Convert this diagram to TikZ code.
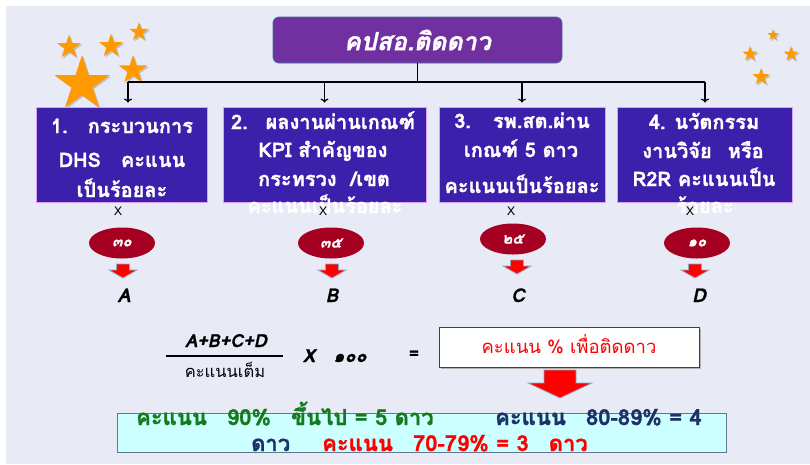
\documentclass[tikz,border=0pt]{standalone}
\usepackage{fontspec}
\setmainfont{Loma}[Script=Thai, BoldFeatures={FakeBold=1.2}, BoldItalicFeatures={FakeBold=1.2}]
\usetikzlibrary{shapes.geometric,arrows.meta}
\definecolor{bg}{HTML}{E8EBF6}
\definecolor{titlefill}{HTML}{7030A0}
\definecolor{titleedge}{HTML}{41719C}
\definecolor{boxfill}{HTML}{3A20AA}
\definecolor{boxedge}{HTML}{D8A0F0}
\definecolor{ovalfill}{HTML}{A50021}
\definecolor{starc}{HTML}{FF9900}
\definecolor{arredge}{HTML}{8EA9C8}
\definecolor{cyanfill}{HTML}{CCFFFF}
\definecolor{cyanedge}{HTML}{5F7891}
\definecolor{dgreen}{HTML}{157A1E}
\definecolor{navy}{HTML}{1F3068}
\tikzset{
  titlebox/.style={draw=titleedge, line width=0.8pt, fill=titlefill, rounded corners=6pt, text=white, font=\bfseries\itshape\fontsize{25}{29}\selectfont},
  bigbox/.style={draw=boxedge, line width=0.8pt, fill=boxfill},
  boxtxt/.style={anchor=base, inner sep=0pt, text=white, font=\bfseries\fontsize{20}{24}\selectfont},
  xmark/.style={anchor=base, inner sep=0pt, font=\fontsize{12}{14}\selectfont},
  oval/.style={ellipse, fill=ovalfill, inner sep=0pt, minimum width=66pt, minimum height=31pt, text=white, font=\bfseries\itshape\fontsize{15}{17}\selectfont},
  letter/.style={anchor=base, inner sep=0pt, font=\bfseries\itshape\fontsize{19}{21}\selectfont},
  conn/.style={line width=1.5pt},
  arr/.style={line width=1.2pt, -{To[length=4pt,width=8pt]}, shorten >=4pt},
  starn/.style={star, star points=5, star point ratio=2.618, fill=starc, inner sep=0pt, draw=none},
  starsh/.style={star, star points=5, star point ratio=2.618, fill=black!25, inner sep=0pt, draw=none},
  btxt/.style={anchor=base west, inner sep=0pt, font=\bfseries\fontsize{22}{24}\selectfont},
  fml/.style={anchor=base, inner sep=0pt, font=\bfseries\itshape\fontsize{18}{20}\selectfont},
  pics/barrow/.style n args={4}{code={
    \fill[red, draw=arredge, line width=0.8pt] (-#1,0) -- (#1,0) -- (#1,#3) -- (#2,#3) -- (0,{#3+#4}) -- (-#2,#3) -- (-#1,#3) -- cycle;
  }}
}
\begin{document}
\begin{tikzpicture}[x=1pt,y=-1pt]
\useasboundingbox (0,0) rectangle (810,464);
\fill[white] (0,0) rectangle (810,464);
\fill[bg] (6,6) rectangle (810,464);

% star shadows
\foreach \x/\y/\s in {82/84/58, 69/47/25, 111/46/25, 139/32/20, 133/70/30, 773/35/12, 750/54/16, 791/54/16, 761/77/18}
  \node[starsh, minimum size=\s pt] at (\x+1.5,\y+1.5) {};
% stars
\node[starn, minimum size=58pt] (s1) at (82,84) {};
\node[starn, minimum size=25pt] (s2) at (69,47) {};
\node[starn, minimum size=25pt] (s3) at (111,46) {};
\node[starn, minimum size=20pt] (s4) at (139,32) {};
\node[starn, minimum size=30pt] (s5) at (133,70) {};
\node[starn, minimum size=12pt] (s6) at (773,35) {};
\node[starn, minimum size=16pt] (s7) at (750,54) {};
\node[starn, minimum size=16pt] (s8) at (791,54) {};
\node[starn, minimum size=18pt] (s9) at (761,77) {};

% title
\node[titlebox, minimum width=289pt, minimum height=46pt] (t) at (417.5,40) {คปสอ.ติดดาว};

% boxes
\node[bigbox, minimum width=171pt, minimum height=95pt] (b1) at (121.5,154.5) {};
\node[bigbox, minimum width=203pt, minimum height=95pt] (b2) at (324.5,154.5) {};
\node[bigbox, minimum width=166pt, minimum height=95pt] (b3) at (522,154.5) {};
\node[bigbox, minimum width=175pt, minimum height=95pt] (b4) at (704.5,154.5) {};

% connectors
\coordinate (hl) at (128,82);
\coordinate (hr) at (705,82);
\draw[conn] (t.south) -- (t.south |- hl);
\draw[conn] (hl) -- (hr);
\draw[arr] (hl) -- (hl |- b1.north);
\draw[arr] (b2.north |- hl) -- (b2.north);
\draw[arr] (b3.north |- hl) -- (b3.north);
\draw[arr] (hr) -- (hr |- b4.north);

% box texts
\node[boxtxt] (l11) at (122,133) {1.\hspace{20pt}กระบวนการ};
\node[boxtxt] (l12) at (122,167) {DHS\hspace{20pt}คะแนน};
\node[boxtxt] (l13) at (122,197) {เป็นร้อยละ};
\node[boxtxt] (l21) at (323,129) {2.\hspace{18pt}ผลงานผ่านเกณฑ์};
\node[boxtxt] (l22) at (323,157) {KPI สำคัญของ};
\node[boxtxt] (l23) at (324,186) {กระทรวง\hspace{14pt}/เขต};
\node[boxtxt] (l24) at (325,213) {คะแนนเป็นร้อยละ};
\node[boxtxt] (l31) at (522,128) {3.\hspace{22pt}รพ.สต.ผ่าน};
\node[boxtxt] (l32) at (521,157) {เกณฑ์ 5 ดาว};
\node[boxtxt] (l33) at (522,193) {คะแนนเป็นร้อยละ};
\node[boxtxt] (l41) at (704,129) {4. นวัตกรรม};
\node[boxtxt] (l42) at (703,158) {งานวิจัย\hspace{16pt}หรือ};
\node[boxtxt] (l43) at (704,186) {R2R คะแนนเป็น};
\node[boxtxt] (l44) at (705,213) {ร้อยละ};

% X marks
\node[xmark] (x1) at (118,215) {X};
\node[xmark] (x2) at (323,215) {X};
\node[xmark] (x3) at (511,215) {X};
\node[xmark] (x4) at (690,215) {X};

% ovals
\node[oval] (e1) at (122,243) {๓๐};
\node[oval] (e2) at (331,243) {๓๕};
\node[oval] (e3) at (513,239) {๒๕};
\node[oval] (e4) at (697,243) {๑๐};

% small red arrows
\pic at (123,264) {barrow={6.5}{14}{6}{8}};
\pic at (332,264) {barrow={6.5}{14}{6}{8}};
\pic at (517,260) {barrow={6.5}{14}{6}{8}};
\pic at (695,264) {barrow={6.5}{14}{6}{8}};

% letters
\node[letter] (A) at (124,302) {A};
\node[letter] (B) at (332,302) {B};
\node[letter] (C) at (518,302) {C};
\node[letter] (D) at (699,302) {D};

% formula
\node[fml] (num) at (226,347) {A+B+C+D};
\node[anchor=base, inner sep=0pt, font=\fontsize{16.5}{18}\selectfont] (den) at (225,377) {คะแนนเต็ม};
\coordinate (fl) at (166,356);
\coordinate (fr) at (283,356);
\draw[line width=1.6pt] (fl) -- (fr);
\node[fml] (xx) at (309,362) {X};
\node[fml] (hund) at (350,362) {๑๐๐};
\node[inner sep=0pt, font=\bfseries\fontsize{17}{19}\selectfont] (eq) at (414,355) {=};

% result box
\fill[gray!60] (441,329) rectangle (701,369);
\node[draw=black!75, line width=0.8pt, fill=white, minimum width=260pt, minimum height=40pt, inner sep=0pt] (r) at (569,347) {};
\node[anchor=base, inner sep=0pt, text=red, font=\fontsize{18.5}{20}\selectfont] (rt) at (569,353) {คะแนน \% เพื่อติดดาว};

% big arrow
\pic at (560,370) {barrow={16}{32}{13}{15}};

% bottom box
\node[draw=cyanedge, line width=0.9pt, fill=cyanfill, minimum width=609pt, minimum height=39pt, inner sep=0pt] (bb) at (421.5,432.5) {};
\node[btxt, text=dgreen] (g1) at (136,425) {คะแนน\hspace{20pt}90\%\hspace{20pt}ขึ้นไป = 5 ดาว};
\node[btxt, text=navy] (n1) at (495,425) {คะแนน\hspace{20pt}80-89\% = 4};
\node[btxt, text=navy] (n2) at (251,451) {ดาว};
\node[btxt, text=red] (r2) at (322,451) {คะแนน\hspace{20pt}70-79\% = 3\hspace{20pt}ดาว};
\end{tikzpicture}
\end{document}
